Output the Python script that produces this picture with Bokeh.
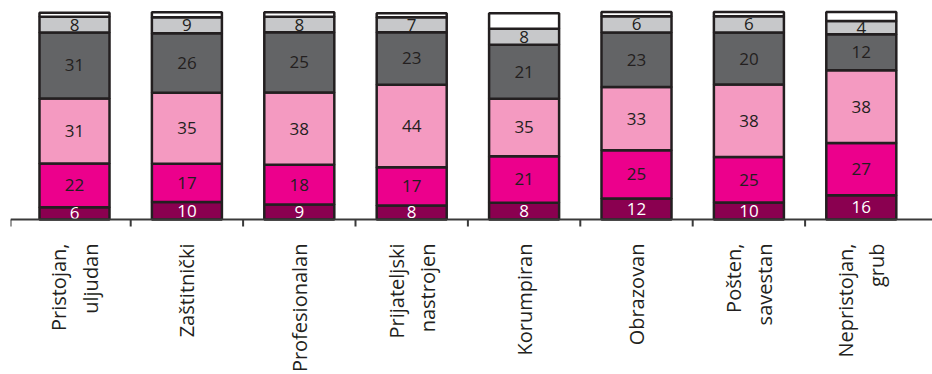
import math
from bokeh.plotting import figure
from bokeh.models import ColumnDataSource, Range1d, Span
from bokeh.core.properties import value
from bokeh.embed import file_html
from bokeh.resources import INLINE

categories = ["Pristojan,\nuljudan", "Zaštitnički", "Profesionalan", "Prijateljski\nnastrojen",
              "Korumpiran", "Obrazovan", "Pošten,\nsavestan", "Nepristojan,\ngrub"]

# printed value labels
lab1 = [6, 10, 9, 8, 8, 12, 10, 16]        # dark maroon (bottom)
lab2 = [22, 17, 18, 17, 21, 25, 25, 27]    # magenta
lab3 = [31, 35, 38, 44, 35, 33, 38, 38]    # pink
lab4 = [31, 26, 25, 23, 21, 23, 20, 12]    # dark gray
lab5 = [8, 9, 8, 7, 8, 6, 6, 4]            # light gray

# segment shares (%) as drawn in the picture
h1 = [5.9, 8.4, 7.2, 6.8, 8.1, 10.1, 8.2, 11.7]
h2 = [21.2, 18.5, 19.2, 18.5, 22.5, 23.3, 22.0, 25.3]
h3 = [31.4, 34.3, 35.0, 39.8, 27.7, 30.6, 35.0, 35.1]
h4 = [31.8, 28.8, 29.0, 25.4, 26.1, 26.3, 25.1, 17.4]
h5 = [7.7, 7.7, 7.6, 7.2, 7.7, 7.9, 7.9, 6.4]
h6 = [1.9, 2.4, 2.1, 1.9, 7.5, 2.1, 2.1, 4.3]   # white rest, unlabeled

heights = [h1, h2, h3, h4, h5, h6]
labels = [lab1, lab2, lab3, lab4, lab5, None]
names = ["h1", "h2", "h3", "h4", "h5", "h6"]
colors = ["#8a0050", "#ec008c", "#f49ac1", "#636466", "#c7c8ca", "#ffffff"]
label_colors = ["#ffffff", "#231f20", "#231f20", "#231f20", "#231f20", None]

W, H = 932, 374
left = 10
px_per_unit = 2.07
y_zero_px = 219
y_top = y_zero_px / px_per_unit
y_bot = -(H - y_zero_px) / px_per_unit
step_px = 112.4
first_center_px = 74
x_start = (left - first_center_px) / step_px
x_end = (W - first_center_px) / step_px

p = figure(width=W, height=H, output_backend="svg", toolbar_location=None,
           x_range=Range1d(x_start, x_end), y_range=Range1d(y_bot, y_top),
           x_axis_type=None, y_axis_type=None,
           min_border_left=left, min_border_right=0, min_border_top=0, min_border_bottom=0)
p.outline_line_color = None
p.grid.visible = False
p.background_fill_color = "#ffffff"

n = len(categories)
xs = list(range(n))
data = {"x": xs}
for nm, s in zip(names, heights):
    data[nm] = s
src = ColumnDataSource(data)

p.vbar_stack(names, x="x", width=0.623, fill_color=colors, line_color="#231f20",
             line_width=2.5, source=src)

# value labels, centred in the drawn segments
cum = [0] * n
for s, lab, lc in zip(heights, labels, label_colors):
    centers = [c + v / 2 for c, v in zip(cum, s)]
    if lab is not None:
        p.text(x=xs, y=centers, text=[str(v) for v in lab], text_color=lc,
               text_align="center", text_baseline="middle",
               text_font=value("Open Sans"), text_font_size="17px")
    cum = [c + v for c, v in zip(cum, s)]

# axis line and ticks
p.add_layout(Span(location=0, dimension="width", line_color="#3a3a3a", line_width=2))
tick_x = [x_start] + [i + 0.5 for i in range(n - 1)]
tick_len = 7 / px_per_unit
p.segment(x0=tick_x, y0=[0] * len(tick_x), x1=tick_x, y1=[-tick_len] * len(tick_x),
          line_color="#3a3a3a", line_width=2)

# category labels
label_y = -(243 - y_zero_px) / px_per_unit
p.text(x=xs, y=[label_y] * n, text=categories, angle=math.pi / 2,
       text_align="right", text_baseline="middle", text_color="#231f20",
       text_font=value("Open Sans"), text_font_size="20px", text_line_height=1.15)

open("out.html", "w").write(file_html(p, INLINE))
